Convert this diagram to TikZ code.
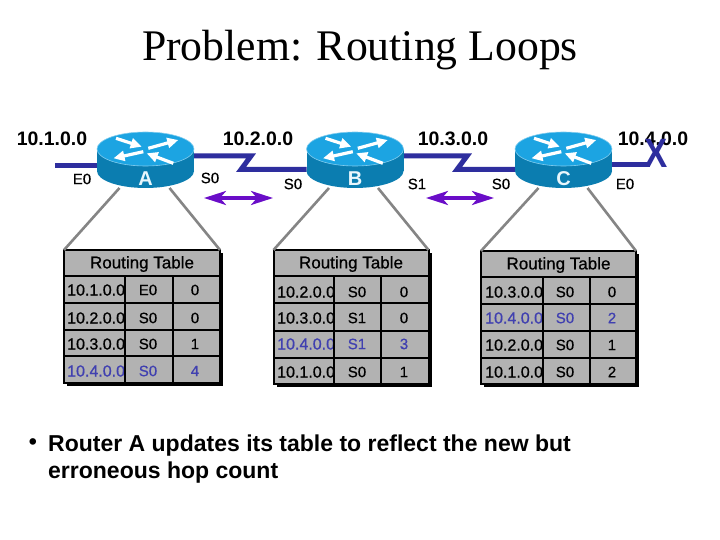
\documentclass[tikz,border=0pt]{standalone}
\usepackage{fontspec}
\setmainfont{Liberation Sans}
\newfontfamily\titlefont{Liberation Serif}
\newfontfamily\medfont[FakeBold=0.7]{Liberation Sans}
\usetikzlibrary{arrows.meta}
\definecolor{linkblue}{HTML}{2E2E9E}
\definecolor{txtblue}{HTML}{4040B0}
\definecolor{rtop}{HTML}{1CA4E2}
\definecolor{rbody}{HTML}{0B7DB0}
\definecolor{tgrey}{HTML}{B2B2B2}
\definecolor{spokes}{HTML}{858585}
\definecolor{swap}{HTML}{6A0DC8}
\newcommand{\fs}[1]{\fontsize{#1}{#1}\selectfont}
\tikzset{
  rtr/.style={minimum width=97pt,minimum height=56pt,inner sep=0pt,outer sep=0pt},
  link/.style={draw=linkblue,line width=5pt,line join=miter,miter limit=10},
  spoke/.style={draw=spokes,line width=2.6pt},
  swaparrow/.style={draw=swap,line width=3.2pt,{Stealth[length=22pt,width=14pt,inset=6pt]}-{Stealth[length=22pt,width=14pt,inset=6pt]}},
  rarrow/.style={draw=white,line width=3.2pt,-{Triangle[length=11pt,width=10pt]}},
  netlabel/.style={font=\fs{19.5}\bfseries,inner sep=0pt},
  portlabel/.style={font=\fs{15}\medfont,inner sep=0pt},
  rletter/.style={font=\fs{20}\bfseries,text=white!90!rtop,inner sep=0pt},
  tablebox/.style={draw=black,fill=tgrey,line width=2pt,anchor=north west,inner sep=0pt,outer sep=0pt},
  tablerule/.style={draw=black,line width=2.7pt},
  cellleft/.style={font=\fs{16}\medfont,anchor=west,inner sep=0pt},
  cellmid/.style={font=\fs{15}\medfont,inner sep=0pt},
  headtxt/.style={font=\fs{17}\medfont,inner sep=0pt},
}
\newcommand{\routerdraw}[2]{%
  \begin{scope}[shift={(#1,149)}]
    \fill[rbody] (0,22) ellipse [x radius=48.5,y radius=17];
    \fill[rbody] (-48.5,0) rectangle (48.5,22);
    \fill[rtop,draw=rtop!55!white,line width=0.6pt] (0,0) ellipse [x radius=48.5,y radius=17];
    \draw[rarrow] (-29.5,-10.7) -- (-3.8,-2.3);
    \draw[rarrow] (2.8,-0.7) -- (32.8,-9);
    \draw[rarrow] (-2.2,2.7) -- (-32,9.3);
    \draw[rarrow] (27.8,14.3) -- (1.2,4.3);
  \end{scope}
  \node[rletter] (let#2) at (#1,179) {#2};
}
\newcommand{\tableframe}[5]{%
  \fill[black] (#2+3,#3+3) rectangle (#2+#4+3,#3+#5+3);
  \node[tablebox,minimum width=#4 pt,minimum height=#5 pt] (#1) at (#2,#3) {};
  \node[headtxt] (#1h) at (#2+#4/2,#3+14) {Routing Table};
}
\begin{document}
\begin{tikzpicture}[x=1pt,y=-1pt]
\useasboundingbox (0,0) rectangle (720,540);
\fill[white] (0,0) rectangle (720,540);

\node[font=\titlefont\fs{43.7},inner sep=0pt] (title) at (360,50) {Problem: Routing Loops};

% router anchors
\node[rtr] (A) at (145.5,160) {};
\node[rtr] (B) at (355,160) {};
\node[rtr] (C) at (563.5,160) {};

% tables
\tableframe{TA}{64}{250}{156}{133}
\tableframe{TB}{273.5}{250}{155}{134}
\tableframe{TC}{481}{251}{155}{133}

% spokes
\draw[spoke] ([xshift=-26pt]A.south) -- (TA.north west);
\draw[spoke] ([xshift=24pt]A.south) -- (TA.north east);
\draw[spoke] ([xshift=-26pt]B.south) -- (TB.north west);
\draw[spoke] ([xshift=23pt]B.south) -- (TB.north east);
\draw[spoke] ([xshift=-25pt]C.south) -- (TC.north west);
\draw[spoke] ([xshift=24pt]C.south) -- (TC.north east);

% links
\coordinate (stubA) at (55,165.5);
\coordinate (stubC) at (650,165);
\draw[link] (A.west|-stubA) -- (stubA);
\draw[link] (C.east|-stubC) -- (stubC);
\draw[link] ([yshift=4pt]A.east) -- (251,156) -- (241,169.5) -- ([yshift=-9.5pt]B.west);
\draw[link] ([yshift=4pt]B.east) -- (467,156) -- (457,169.5) -- ([yshift=-9.5pt]C.west);

\routerdraw{145.5}{A}
\routerdraw{355}{B}
\routerdraw{563.5}{C}

% network labels
\node[netlabel] (n1) at (52,139) {10.1.0.0};
\node[netlabel] (n2) at (258,139) {10.2.0.0};
\node[netlabel] (n3) at (453,139) {10.3.0.0};
\node[netlabel] (n4) at (653,139) {10.4.0.0};
\node[font=\fs{41}\bfseries,text=linkblue,inner sep=0pt,xscale=0.85] (cut) at (656,153) {X};

% ports
\node[portlabel] (p1) at (82,179) {E0};
\node[portlabel] (p2) at (210,178) {S0};
\node[portlabel] (p3) at (293,184) {S0};
\node[portlabel] (p4) at (417,184) {S1};
\node[portlabel] (p5) at (501,184) {S0};
\node[portlabel] (p6) at (625,184) {E0};

% swap arrows
\coordinate (s1l) at (204,198); \coordinate (s1r) at (273,198);
\coordinate (s2l) at (426,198); \coordinate (s2r) at (494,198);
\draw[swaparrow] (s1l) -- (s1r);
\draw[swaparrow] (s2l) -- (s2r);

% table A
\foreach \y/\a/\f/\h/\c [count=\i] in {290/10.1.0.0/E0/0/black,318/10.2.0.0/S0/0/black,344/10.3.0.0/S0/1/black,371/10.4.0.0/S0/4/txtblue}{
  \node[cellleft,text=\c] (ta\i a) at (67,\y) {\a};
  \node[cellmid,text=\c] (ta\i f) at (148,\y) {\f};
  \node[cellmid,text=\c] (ta\i h) at (195,\y) {\h};
}
\foreach \r in {276,303,330,356} \draw[tablerule] (64,\r) -- (220,\r);
\draw[tablerule] (125,276) -- (125,383);
\draw[tablerule] (173,276) -- (173,383);

% table B
\foreach \y/\a/\f/\h/\c [count=\i] in {292/10.2.0.0/S0/0/black,318/10.3.0.0/S1/0/black,344/10.4.0.0/S1/3/txtblue,372/10.1.0.0/S0/1/black}{
  \node[cellleft,text=\c] (tb\i a) at (277,\y) {\a};
  \node[cellmid,text=\c] (tb\i f) at (357,\y) {\f};
  \node[cellmid,text=\c] (tb\i h) at (404,\y) {\h};
}
\foreach \r in {276,303,331,358} \draw[tablerule] (273.5,\r) -- (428.5,\r);
\draw[tablerule] (334,276) -- (334,384);
\draw[tablerule] (381,276) -- (381,384);

% table C
\foreach \y/\a/\f/\h/\c [count=\i] in {292/10.3.0.0/S0/0/black,318/10.4.0.0/S0/2/txtblue,345/10.2.0.0/S0/1/black,372/10.1.0.0/S0/2/black}{
  \node[cellleft,text=\c] (tc\i a) at (485,\y) {\a};
  \node[cellmid,text=\c] (tc\i f) at (565,\y) {\f};
  \node[cellmid,text=\c] (tc\i h) at (612,\y) {\h};
}
\foreach \r in {277,304,331,358} \draw[tablerule] (481,\r) -- (636,\r);
\draw[tablerule] (543,277) -- (543,384);
\draw[tablerule] (590,277) -- (590,384);

% bullet
\node[font=\fs{23}\bfseries,inner sep=0pt] (bul) at (33,444) {•};
\node[font=\fs{23}\bfseries,inner sep=0pt,anchor=north west,align=left] (txt) at (48,435) {Router A updates its table to reflect the new but\\[4pt]erroneous hop count};
\end{tikzpicture}
\end{document}
